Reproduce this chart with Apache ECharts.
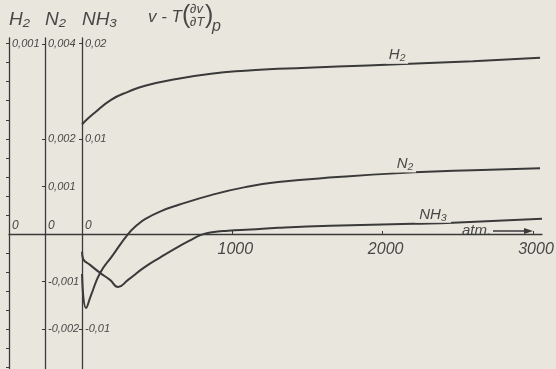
<!DOCTYPE html>
<html><head><meta charset="utf-8">
<script src="https://cdn.jsdelivr.net/npm/echarts@6/dist/echarts.min.js"></script>
<style>html,body{margin:0;padding:0;background:#e9e7dd}#c{width:556px;height:369px}</style>
</head><body><div id="c"></div><script>
// ---- data (pressure in atm, values of v - T(dv/dT)_p in each gas's own scale) ----
const h2P  = [0, 30, 84, 193, 306, 419, 639, 858, 1085, 1304, 1700, 2100, 2600, 3047];
const h2V  = [0.000575, 0.000600, 0.000637, 0.000705, 0.000747, 0.000779, 0.000816, 0.000842, 0.000858, 0.000868, 0.000880, 0.000892, 0.000908, 0.000926];
const n2P  = [0, 27, 60, 120, 200, 306, 366, 419, 526, 639, 858, 1085, 1304, 1700, 2116, 2600, 3047];
const n2V  = [-0.000842, -0.001558, -0.001284, -0.000821, -0.000463, 0, 0.000189, 0.000316, 0.000484, 0.000611, 0.000821, 0.000989, 0.001095, 0.0012, 0.001284, 0.001347, 0.001389];
const nh3P = [0, 7, 53, 120, 186, 240, 306, 419, 526, 639, 719, 792, 865, 971, 1122, 1304, 1650, 2202, 2468, 3060];
const nh3V = [-0.001895, -0.002632, -0.003263, -0.004105, -0.004842, -0.005579, -0.004842, -0.003474, -0.002421, -0.001368, -0.000684, -0.000105, 0.000179, 0.000337, 0.000463, 0.000632, 0.000842, 0.001053, 0.001158, 0.001579];
// ---- tick labels ----
const xTickValues = [1000, 2000, 3000];
const h2Ticks  = [0, 0.001];
const n2Ticks  = [-0.002, -0.001, 0, 0.001, 0.002, 0.004];
const nh3Ticks = [-0.01, 0, 0.01, 0.02];
const h2Minor  = [0.0001,0.0002,0.0003,0.0004,0.0005,0.0006,0.0007,0.0008,0.0009,0.001,-0.0001,-0.0002,-0.0003,-0.0004,-0.0005,-0.0006,-0.0007];
// curve label positions (atm)
const labelAt = {h2: 2096, n2: 2149, nh3: 2335};

const BG = '#e9e7dd', LINE = '#3a3a3a', TXT = '#474747';
const FONT = 'Liberation Sans';

function pair(p, v){ return p.map((x,i)=>[x, v[i]]); }
function interp(p, v, x){
  for (let i=1;i<p.length;i++){ if (x<=p[i]){ const t=(x-p[i-1])/(p[i]-p[i-1]); return v[i-1]+t*(v[i]-v[i-1]); } }
  return v[v.length-1];
}
function fmt(v){
  if (Math.abs(v) < 1e-12) return '{z|0}';
  return (v<0?'-':'') + String(Math.abs(v)).replace('.', ',');
}
const labelBase = {inside:true, margin:3, color:TXT, fontStyle:'italic', fontSize:11, fontFamily:FONT, formatter:fmt,
  rich:{z:{padding:[0,0,16,0], fontSize:12, fontStyle:'italic', fontFamily:FONT, color:TXT}}};
function yAx(name, min, max, offset, ticks, minor){
  return {
    type:'value', position:'left', offset:offset, min:min, max:max,
    name:name, nameLocation:'end', nameGap:9,
    nameTextStyle:{align:'left', fontSize:19, fontStyle:'italic', fontFamily:FONT, color:TXT},
    axisLine:{show:true, onZero:false, lineStyle:{color:LINE, width:1.3}},
    axisTick:{show:true, inside:false, length:3, customValues: minor || ticks.filter(t=>t!==0), lineStyle:{color:LINE}},
    axisLabel:Object.assign({customValues:ticks}, labelBase),
    splitLine:{show:false}
  };
}
const srcs = {h2:[h2P,h2V], n2:[n2P,n2V], nh3:[nh3P,nh3V]};
function curveLabel(name, text, w){
  const p = labelAt[name];
  return {silent:true, symbol:'rect', symbolSize:[w,17], symbolOffset:[0,-9], itemStyle:{color:BG},
    label:{show:true, position:'inside', formatter:text, color:TXT, fontSize:15, fontStyle:'italic', fontFamily:FONT},
    data:[{coord:[p, interp(srcs[name][0], srcs[name][1], p)]}]};
}
function series(name, axis, lbl, w){
  return {name:name, type:'line', yAxisIndex:axis, data:pair(srcs[name][0], srcs[name][1]), showSymbol:false, symbol:'none',
    smooth:0.5, lineStyle:{color:LINE, width:2}, silent:true,
    markPoint: curveLabel(name, lbl, w)};
}

const chart = echarts.init(document.getElementById('c'), null, {renderer:'canvas'});
chart.setOption({
  backgroundColor: BG,
  animation:false,
  grid:{left:9, right:14, top:38, height:386, outerBoundsMode:'none', containLabel:false},
  xAxis:{type:'value', min:-486, max:3060, position:'bottom', offset:-190,
    axisLine:{show:true, onZero:false, lineStyle:{color:LINE, width:1.3}},
    axisTick:{show:true, inside:true, length:3, customValues:xTickValues, lineStyle:{color:LINE}},
    axisLabel:{customValues:xTickValues, formatter:(v)=>String(v), color:TXT, fontSize:16, fontStyle:'italic', fontFamily:FONT, margin:8, padding:[0,0,0,6]},
    splitLine:{show:false}},
  yAxis:[
    yAx('H₂', -0.001, 0.00103, 0, h2Ticks, h2Minor),
    yAx('N₂', -0.004, 0.00413, -36, n2Ticks),
    yAx('NH₃', -0.02, 0.0206, -73, nh3Ticks)
  ],
  series:[
    series('h2', 0, 'H₂', 22),
    series('n2', 1, 'N₂', 22),
    series('nh3', 2, 'NH₃', 36)
  ],
  graphic:[
    {type:'text', left:148, top:9, style:{text:'v - T', fontSize:17, fontStyle:'italic', fontFamily:FONT, fill:TXT}},
    {type:'text', left:182, top:4, style:{text:'(', fontSize:25, fontFamily:FONT, fill:TXT}},
    {type:'text', left:190, top:3, style:{text:'∂v', fontSize:13, fontStyle:'italic', fontFamily:FONT, fill:TXT}},
    {type:'text', left:190, top:16, style:{text:'∂T', fontSize:13, fontStyle:'italic', fontFamily:FONT, fill:TXT}},
    {type:'text', left:205, top:4, style:{text:')', fontSize:25, fontFamily:FONT, fill:TXT}},
    {type:'text', left:212, top:19, style:{text:'p', fontSize:16, fontStyle:'italic', fontFamily:FONT, fill:TXT}},
    {type:'text', left:462, top:223, style:{text:'atm.', fontSize:15, fontStyle:'italic', fontFamily:FONT, fill:TXT}},
    {type:'polyline', shape:{points:[[493,231],[530,231]]}, style:{stroke:LINE, lineWidth:1.3}},
    {type:'polygon', shape:{points:[[533,231],[524,228],[524,234]]}, style:{fill:LINE}}
  ]
});
</script></body></html>
